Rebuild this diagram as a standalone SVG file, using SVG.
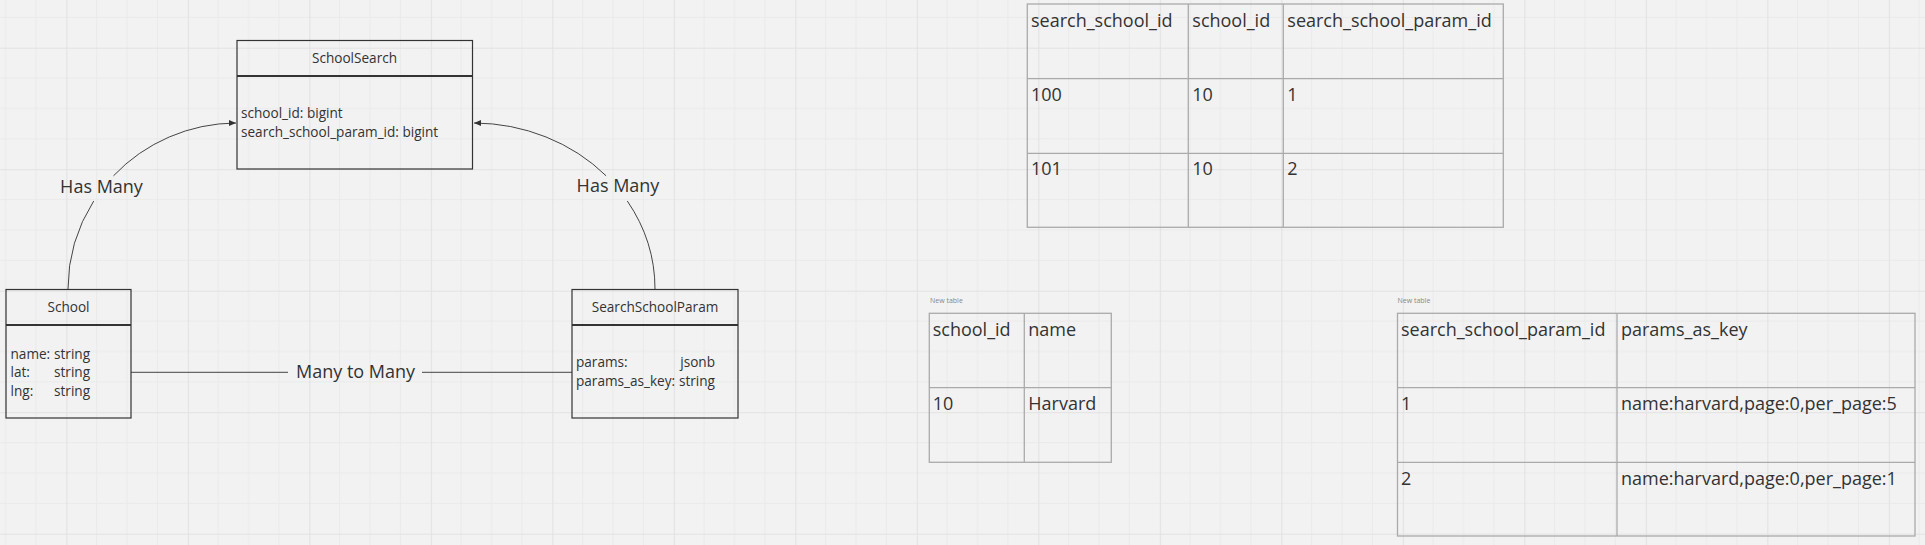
<svg xmlns="http://www.w3.org/2000/svg" width="1925" height="545" viewBox="0 0 1925 545">
<style>
  .box{fill:none;stroke:#333;stroke-width:1.2}
  .div{stroke:#333;stroke-width:2}
  .hd{font-family:"Open Sans","Liberation Sans",sans-serif;font-size:13.6px;fill:#333;text-anchor:middle}
  .at{font-family:"Open Sans","Liberation Sans",sans-serif;font-size:13.6px;fill:#333}
  .lbl{font-family:"Open Sans","Liberation Sans",sans-serif;font-size:18px;fill:#333;text-anchor:middle}
  .conn{fill:none;stroke:#444;stroke-width:1}
  .tb{fill:none;stroke:#aaa;stroke-width:1.3}
  .tl{stroke:#aaa;stroke-width:1.3}
  .tt{font-family:"Open Sans","Liberation Sans",sans-serif;font-size:18px;fill:#333}
  .nt{font-family:"Open Sans","Liberation Sans",sans-serif;font-size:7px;fill:#888}
</style>
<defs>
  <pattern id="grid" patternUnits="userSpaceOnUse" x="66.3" y="47.7" width="121.5" height="121.5">
    <path d="M30.375 0V121.5M60.75 0V121.5M91.125 0V121.5M0 30.375H121.5M0 60.75H121.5M0 91.125H121.5" stroke="#eaeaea" stroke-width="1" fill="none"/>
    <path d="M0.5 0V121.5M0 0.5H121.5" stroke="#e2e2e2" stroke-width="1.2" fill="none"/>
  </pattern>
  <marker id="arr" markerWidth="8" markerHeight="8" refX="7" refY="4" orient="auto" markerUnits="userSpaceOnUse">
    <path d="M0,1 L7,4 L0,7 Z" fill="#333"/>
  </marker>
</defs>
<rect width="1925" height="545" fill="#f2f2f2"/>
<rect width="1925" height="545" fill="url(#grid)"/>

<g id="connectors">
  <path class="conn" d="M68,289 A169,166 0 0 1 93.7,201"/>
  <path class="conn" d="M113.5,175.8 A169,166 0 0 1 236,123" marker-end="url(#arr)"/>
  <text class="lbl" x="101.5" y="193">Has Many</text>
  <path class="conn" d="M655,289 A182,166 0 0 0 627.3,201"/>
  <path class="conn" d="M606.1,175.8 A182,166 0 0 0 474,123" marker-end="url(#arr)"/>
  <text class="lbl" x="618" y="192">Has Many</text>
  <path class="conn" d="M131,372.3 H288 M422,372.3 H572"/>
  <text class="lbl" x="355.5" y="378">Many to Many</text>
</g>

<g id="SchoolSearch">
  <rect class="box" x="237" y="40.5" width="235.5" height="128.5"/>
  <line class="div" x1="237" y1="76" x2="472.5" y2="76"/>
  <text class="hd" x="354.5" y="63">SchoolSearch</text>
  <text class="at" x="241" y="118">school_id: bigint</text>
  <text class="at" x="241" y="136.5">search_school_param_id: bigint</text>
</g>

<g id="School">
  <rect class="box" x="6" y="289.5" width="125" height="128.5"/>
  <line class="div" x1="6" y1="325" x2="131" y2="325"/>
  <text class="hd" x="68.5" y="312">School</text>
  <text class="at" x="10.5" y="358.5">name:</text><text class="at" x="54" y="358.5">string</text>
  <text class="at" x="10.5" y="377">lat:</text><text class="at" x="54" y="377">string</text>
  <text class="at" x="10.5" y="395.5">lng:</text><text class="at" x="54" y="395.5">string</text>
</g>

<g id="SearchSchoolParam">
  <rect class="box" x="572" y="289.5" width="166" height="128.5"/>
  <line class="div" x1="572" y1="325" x2="738" y2="325"/>
  <text class="hd" x="655" y="312">SearchSchoolParam</text>
  <text class="at" x="576" y="367">params:</text><text class="at" x="715" y="367" text-anchor="end">jsonb</text>
  <text class="at" x="576" y="385.5">params_as_key:</text><text class="at" x="715" y="385.5" text-anchor="end">string</text>
</g>

<g id="table_search_school">
  <rect class="tb" x="1027.3" y="4" width="476" height="223.3"/>
  <line class="tl" x1="1027.3" y1="78.7" x2="1503.3" y2="78.7"/>
  <line class="tl" x1="1027.3" y1="153.3" x2="1503.3" y2="153.3"/>
  <line class="tl" x1="1188.3" y1="4" x2="1188.3" y2="227.3"/>
  <line class="tl" x1="1283.3" y1="4" x2="1283.3" y2="227.3"/>
  <text class="tt" x="1031" y="27">search_school_id</text>
  <text class="tt" x="1192.3" y="27">school_id</text>
  <text class="tt" x="1287.3" y="27">search_school_param_id</text>
  <text class="tt" x="1031" y="100.5">100</text>
  <text class="tt" x="1192.3" y="100.5">10</text>
  <text class="tt" x="1287.3" y="100.5">1</text>
  <text class="tt" x="1031" y="175">101</text>
  <text class="tt" x="1192.3" y="175">10</text>
  <text class="tt" x="1287.3" y="175">2</text>
</g>

<g id="table_school">
  <text class="nt" x="930" y="302.7">New table</text>
  <rect class="tb" x="929.3" y="313.3" width="182" height="149"/>
  <line class="tl" x1="929.3" y1="387.7" x2="1111.3" y2="387.7"/>
  <line class="tl" x1="1024.3" y1="313.3" x2="1024.3" y2="462.3"/>
  <text class="tt" x="932.7" y="336">school_id</text>
  <text class="tt" x="1028.3" y="336">name</text>
  <text class="tt" x="932.7" y="410">10</text>
  <text class="tt" x="1028.3" y="410">Harvard</text>
</g>

<g id="table_search_school_param">
  <text class="nt" x="1397.5" y="302.7">New table</text>
  <rect class="tb" x="1397.5" y="313.3" width="517.5" height="222.7"/>
  <line class="tl" x1="1397.5" y1="387.7" x2="1915" y2="387.7"/>
  <line class="tl" x1="1397.5" y1="462.3" x2="1915" y2="462.3"/>
  <line class="tl" x1="1617" y1="313.3" x2="1617" y2="536"/>
  <text class="tt" x="1401" y="336">search_school_param_id</text>
  <text class="tt" x="1621" y="336">params_as_key</text>
  <text class="tt" x="1401" y="410">1</text>
  <text class="tt" x="1621" y="410">name:harvard,page:0,per_page:5</text>
  <text class="tt" x="1401" y="484.5">2</text>
  <text class="tt" x="1621" y="484.5">name:harvard,page:0,per_page:1</text>
</g>
</svg>
